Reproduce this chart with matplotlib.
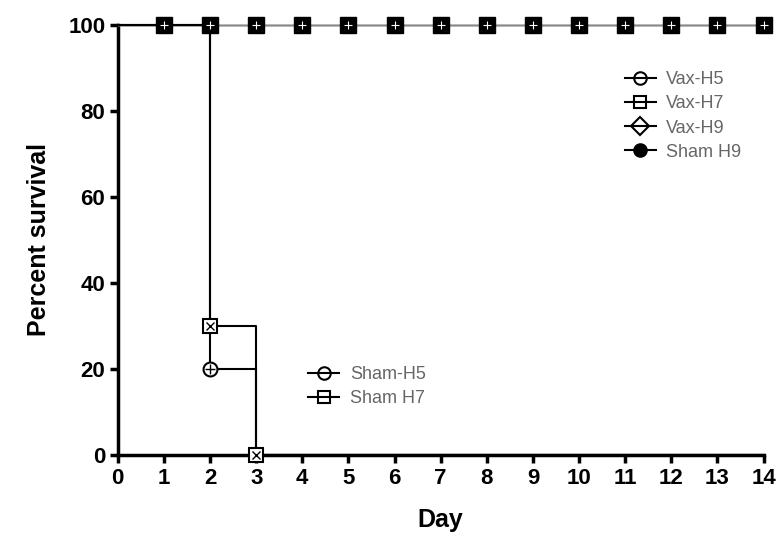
import matplotlib.pyplot as plt
import numpy as np

plt.rcParams['font.family'] = ['Liberation Sans', 'DejaVu Sans']

days = np.arange(0, 15)
vax_h5 = [100] * 15
vax_h7 = [100] * 15
vax_h9 = [100] * 15
sham_h9 = [100] * 15
sham_h5 = [100, 100, 20, 0, 0, 0, 0, 0, 0, 0, 0, 0, 0, 0, 0]
sham_h7 = [100, 100, 30, 0, 0, 0, 0, 0, 0, 0, 0, 0, 0, 0, 0]

fig = plt.figure(figsize=(7.8, 5.49), dpi=100)
ax = fig.add_axes([0.151, 0.171, 0.828, 0.784])

def draw(y, marker, mfc='white', lw=1.5, color='black', mark_days=()):
    ax.step(days, y, where='post', color=color, lw=lw, zorder=2, clip_on=False)
    if mark_days:
        ys = [y[d] for d in mark_days]
        ax.plot(list(mark_days), ys, ls='none', marker=marker, ms=10, mfc=mfc,
                mec='black', mew=1.5, zorder=3, clip_on=False)
    h, = ax.plot([], [], color='black', lw=1.5, marker=marker, ms=9,
                 mfc='black' if mfc == 'black' else 'none', mec='black', mew=1.5)
    return h

h1 = draw(vax_h5, 'o', color='#888888', lw=1)
h2 = draw(vax_h7, 's', color='#888888', lw=1)
h3 = draw(vax_h9, 'D', color='#888888', lw=1)
h4 = draw(sham_h9, 'o', mfc='black', color='#888888', lw=1)
# overlapping symbols at 100% look like solid squares
ax.plot(range(1, 15), vax_h5[1:], ls='none', marker='s', ms=11, mfc='black',
        mec='black', zorder=4, clip_on=False)
ax.plot(range(1, 15), vax_h5[1:], ls='none', marker='+', ms=6, mec='white',
        mew=0.8, zorder=5, clip_on=False)

h5 = draw(sham_h5, 'o', mark_days=[2])
h6 = draw(sham_h7, 's', mark_days=[2, 3])
ax.plot([2, 3], [30, 0], ls='none', marker='x', ms=6, mec='black', mew=1,
        zorder=5, clip_on=False)
ax.plot([2], [20], ls='none', marker='+', ms=7, mec='black', mew=1, zorder=5)

leg1 = ax.legend([h1, h2, h3, h4], ['Vax-H5', 'Vax-H7', 'Vax-H9', 'Sham H9'],
                 loc='upper left', bbox_to_anchor=(0.76, 0.93), frameon=False,
                 fontsize=13, handlelength=1.7, labelspacing=0.4,
                 handletextpad=0.6, labelcolor='#666666')
ax.add_artist(leg1)
ax.legend([h5, h6], ['Sham-H5', 'Sham H7'], loc='upper left',
          bbox_to_anchor=(0.27, 0.245), frameon=False, fontsize=13,
          handlelength=1.7, labelspacing=0.4, handletextpad=0.6,
          labelcolor='#666666')

ax.set_xlim(0, 14)
ax.set_ylim(0, 100)
ax.set_xticks(range(0, 15))
ax.set_yticks(range(0, 101, 20))
for s in ['top', 'right']:
    ax.spines[s].set_visible(False)
for s in ['left', 'bottom']:
    ax.spines[s].set_linewidth(2.5)
ax.tick_params(width=2.5, length=6, labelsize=16, direction='out', pad=3)
for lab in ax.get_xticklabels() + ax.get_yticklabels():
    lab.set_fontweight('bold')
ax.set_xlabel('Day', fontsize=18, fontweight='bold', labelpad=14)
ax.set_ylabel('Percent survival', fontsize=18, fontweight='bold', labelpad=12)
for sp in ax.spines.values():
    sp.set_zorder(1)

fig.savefig('out.png', dpi=100)
